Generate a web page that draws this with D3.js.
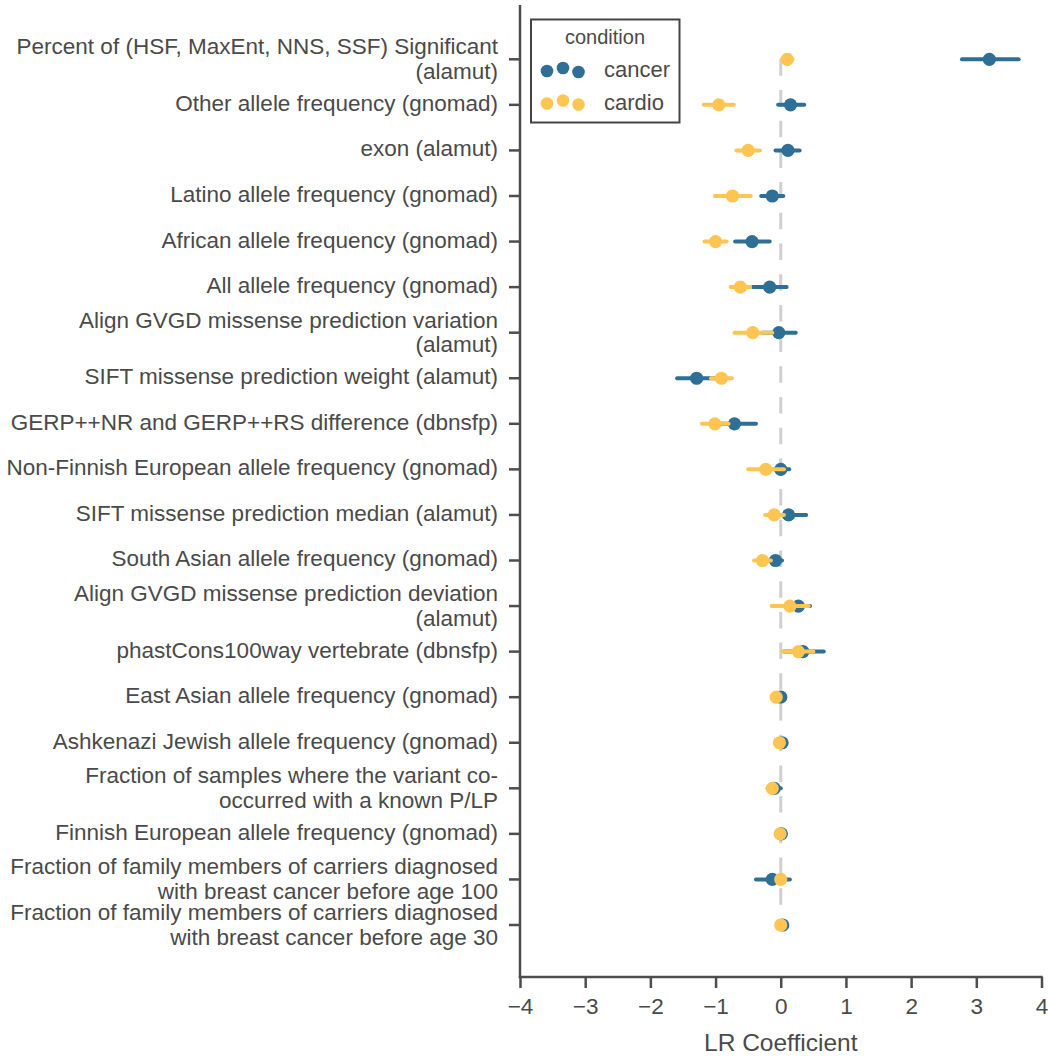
<!DOCTYPE html>
<html>
<head>
<meta charset="utf-8">
<script src="https://cdn.jsdelivr.net/npm/d3@7"></script>
<style>
  html, body { margin: 0; padding: 0; background: #ffffff; }
  svg text { font-family: "Liberation Sans", Arial, sans-serif; }
</style>
</head>
<body>
<svg id="chart" width="1048" height="1057"></svg>
<script>
// Feature names (top to bottom); "\n" marks a wrapped second line
const features = [
  "Percent of (HSF, MaxEnt, NNS, SSF) Significant\n(alamut)",
  "Other allele frequency (gnomad)",
  "exon (alamut)",
  "Latino allele frequency (gnomad)",
  "African allele frequency (gnomad)",
  "All allele frequency (gnomad)",
  "Align GVGD missense prediction variation\n(alamut)",
  "SIFT missense prediction weight (alamut)",
  "GERP++NR and GERP++RS difference (dbnsfp)",
  "Non-Finnish European allele frequency (gnomad)",
  "SIFT missense prediction median (alamut)",
  "South Asian allele frequency (gnomad)",
  "Align GVGD missense prediction deviation\n(alamut)",
  "phastCons100way vertebrate (dbnsfp)",
  "East Asian allele frequency (gnomad)",
  "Ashkenazi Jewish allele frequency (gnomad)",
  "Fraction of samples where the variant co-\noccurred with a known P/LP",
  "Finnish European allele frequency (gnomad)",
  "Fraction of family members of carriers diagnosed\nwith breast cancer before age 100",
  "Fraction of family members of carriers diagnosed\nwith breast cancer before age 30"
];

const conditions = ["cancer", "cardio"];

// LR coefficient estimates with confidence interval bounds
const cancerMean = [3.20, 0.15, 0.11, -0.13, -0.44, -0.17, -0.03, -1.29, -0.71, 0.00, 0.12, -0.08, 0.27, 0.34, 0.00, 0.02, -0.10, 0.01, -0.13, 0.03];
const cancerLow  = [2.78, -0.04, -0.08, -0.30, -0.70, -0.43, -0.28, -1.59, -1.00, -0.10, -0.05, -0.15, 0.05, 0.05, -0.02, 0.00, -0.20, -0.01, -0.38, 0.01];
const cancerHigh = [3.65, 0.36, 0.29, 0.04, -0.17, 0.09, 0.23, -0.95, -0.38, 0.13, 0.39, 0.02, 0.45, 0.66, 0.02, 0.04, 0.00, 0.03, 0.14, 0.05];

const cardioMean = [0.10, -0.95, -0.50, -0.74, -1.00, -0.62, -0.43, -0.91, -1.01, -0.23, -0.10, -0.28, 0.14, 0.27, -0.07, -0.02, -0.13, -0.01, 0.00, 0.00];
const cardioLow  = [0.02, -1.18, -0.68, -1.01, -1.17, -0.77, -0.71, -1.07, -1.21, -0.50, -0.24, -0.41, -0.14, 0.03, -0.09, -0.04, -0.18, -0.03, -0.02, -0.02];
const cardioHigh = [0.18, -0.72, -0.32, -0.46, -0.83, -0.47, -0.13, -0.75, -0.80, 0.05, 0.05, -0.15, 0.43, 0.50, -0.05, 0.00, -0.08, 0.01, 0.02, 0.02];

const xTicks = [-4, -3, -2, -1, 0, 1, 2, 3, 4];
const xLabel = "LR Coefficient";
const legendTitle = "condition";

const palette = { cancer: "#2e6f96", cardio: "#fec552" };
const textColor = "#4a4a4a";
const spineColor = "#4d4d4d";

const svg = d3.select("#chart");

const plotLeft = 520, plotRight = 1041.5, plotTop = 5, plotBottom = 977;

const x = d3.scaleLinear().domain([-4, 4]).range([plotLeft, plotRight]);
const y = d3.scalePoint().domain(features).range([59.3, 925]);

// reference line at zero
svg.append("line")
  .attr("x1", x(0)).attr("x2", x(0))
  .attr("y1", y(features[0])).attr("y2", y(features[features.length - 1]))
  .attr("stroke", "#d0d0d0")
  .attr("stroke-width", 3)
  .attr("stroke-dasharray", "16.5,14.2");

// assemble per-condition rows
const series = {
  cancer: features.map((f, i) => ({ f, m: cancerMean[i], lo: cancerLow[i], hi: cancerHigh[i] })),
  cardio: features.map((f, i) => ({ f, m: cardioMean[i], lo: cardioLow[i], hi: cardioHigh[i] }))
};

conditions.forEach(c => {
  const g = svg.append("g").attr("class", "cond-" + c);
  g.selectAll("line.err").data(series[c]).join("line")
    .attr("class", "err")
    .attr("x1", d => x(d.lo)).attr("x2", d => x(d.hi))
    .attr("y1", d => y(d.f)).attr("y2", d => y(d.f))
    .attr("stroke", palette[c])
    .attr("stroke-width", 4)
    .attr("stroke-linecap", "round");
  g.selectAll("circle").data(series[c]).join("circle")
    .attr("cx", d => x(d.m))
    .attr("cy", d => y(d.f))
    .attr("r", 6.6)
    .attr("fill", palette[c]);
});

// y axis: spine, ticks, wrapped labels
svg.append("line")
  .attr("x1", plotLeft).attr("x2", plotLeft)
  .attr("y1", plotTop).attr("y2", plotBottom + 1.2)
  .attr("stroke", spineColor).attr("stroke-width", 2.5);

const yTick = svg.append("g").selectAll("g").data(features).join("g")
  .attr("transform", d => `translate(0,${y(d)})`);
yTick.append("line")
  .attr("x1", plotLeft - 11).attr("x2", plotLeft)
  .attr("stroke", spineColor).attr("stroke-width", 2.5);
yTick.each(function (d) {
  const lines = d.split("\n");
  const t = d3.select(this).append("text")
    .attr("text-anchor", "end")
    .attr("fill", textColor)
    .attr("font-size", 22.5);
  const offsets = lines.length === 1 ? [6] : [-5, 19.5];
  lines.forEach((ln, k) => {
    t.append("tspan").attr("x", plotLeft - 22).attr("y", offsets[k]).text(ln);
  });
});

// x axis
const xAxis = d3.axisBottom(x)
  .tickValues(xTicks)
  .tickSize(11)
  .tickPadding(10)
  .tickFormat(d3.format("d"));
const xg = svg.append("g")
  .attr("transform", `translate(0,${plotBottom})`)
  .call(xAxis);
xg.select(".domain")
  .attr("d", `M${plotLeft - 1.2},0H${plotRight + 1.2}`)
  .attr("stroke", spineColor).attr("stroke-width", 2.5);
xg.selectAll(".tick line").attr("stroke", spineColor).attr("stroke-width", 2.5);
xg.selectAll(".tick text")
  .attr("font-size", 22.5)
  .attr("fill", textColor)
  .attr("font-family", "Liberation Sans, Arial, sans-serif")
  .text(d => d < 0 ? "\u2212" + Math.abs(d) : String(d));

svg.append("text")
  .attr("x", (plotLeft + plotRight) / 2)
  .attr("y", 1051)
  .attr("text-anchor", "middle")
  .attr("font-size", 24.5)
  .attr("fill", textColor)
  .text(xLabel);

// legend
const lg = svg.append("g");
lg.append("rect")
  .attr("x", 531).attr("y", 19.5)
  .attr("width", 148.5).attr("height", 103)
  .attr("fill", "#ffffff")
  .attr("stroke", "#444444")
  .attr("stroke-width", 2);
lg.append("text")
  .attr("x", 605).attr("y", 43.5)
  .attr("text-anchor", "middle")
  .attr("font-size", 20)
  .attr("fill", textColor)
  .text(legendTitle);
const dotDx = [547, 563, 578.5];
const dotDy = [1.5, -1.5, 2.5];
conditions.forEach((c, i) => {
  const cy = 69.5 + i * 32.5;
  dotDx.forEach((dx, k) => {
    lg.append("circle")
      .attr("cx", dx).attr("cy", cy + dotDy[k])
      .attr("r", 6.3)
      .attr("fill", palette[c]);
  });
  lg.append("text")
    .attr("x", 604).attr("y", cy + 7.5)
    .attr("font-size", 22)
    .attr("fill", textColor)
    .text(c);
});
</script>
</body>
</html>
